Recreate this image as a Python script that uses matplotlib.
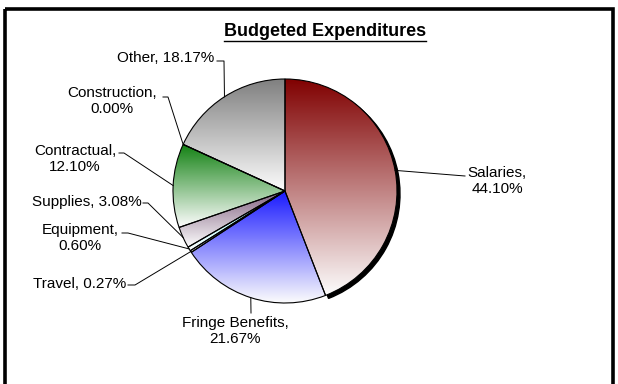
import numpy as np
import matplotlib
matplotlib.use('Agg')
import matplotlib.pyplot as plt
from matplotlib.patches import Wedge, Rectangle
from matplotlib.colors import to_rgb

categories = ['Salaries', 'Fringe Benefits', 'Travel', 'Equipment', 'Supplies',
              'Contractual', 'Construction', 'Other']
shares = [44.10, 21.67, 0.27, 0.60, 3.08, 12.10, 0.00, 18.17]
top_colors = ['#800000', '#1a1aff', '#206060', '#80ffff', '#806080',
              '#108010', '#c0c0c0', '#808080']

# label text, text centre, leader start (x, y in pixels, y downward)
label_text = ['Salaries,\n44.10%', 'Fringe Benefits,\n21.67%', 'Travel, 0.27%',
              'Equipment,\n0.60%', 'Supplies, 3.08%', 'Contractual,\n12.10%',
              'Construction,\n0.00%', 'Other, 18.17%']
label_pos = [(497, 181), (235, 331), (80, 284), (80, 238), (87, 202),
             (75, 159), (112, 101), (166, 58)]
leader_start = [[(465, 176)], [(251, 313)], [(128, 285), (135, 285)],
                [(122, 233), (128, 233)], [(143, 203), (148, 203)],
                [(119, 153), (124, 153)], [(163, 97), (168, 97)],
                [(217, 61), (224, 61)]]

W, H = 618, 384
cx, cy, r = 285, 191, 112

plt.rcParams['font.family'] = ['Liberation Sans', 'DejaVu Sans']

fig = plt.figure(figsize=(W / 100, H / 100), dpi=100)
ax = fig.add_axes([0, 0, 1, 1])

wedges, _ = ax.pie(shares, startangle=270, counterclock=True, center=(cx, cy),
                   radius=r, frame=True,
                   wedgeprops=dict(facecolor='none', edgecolor='black', linewidth=0.8))

# gradient fill: wedge colour at the top fading to white at the bottom
for w, col in zip(wedges, top_colors):
    w.set_zorder(2)
    ext = w.get_path().get_extents()
    if ext.height < 0.5 or ext.width < 0.5:
        continue
    c = np.array(to_rgb(col))
    t = np.linspace(0, 1, 256)[:, None]
    grad = (1 - t) * c + t * np.array([0.99, 0.99, 0.99])
    img = ax.imshow(grad[:, None, :], extent=(ext.x0, ext.x1, ext.y1, ext.y0),
                    aspect='auto', origin='upper', zorder=1, interpolation='bilinear')
    img.set_clip_path(w)

# drop shadow under the salaries slice
sal = wedges[0]
ax.add_patch(Wedge((cx + 3, cy + 3), r, sal.theta1, sal.theta2,
                   facecolor='black', edgecolor='black', zorder=0.5))

# leader lines and labels
for w, txt, pos, pts in zip(wedges, label_text, label_pos, leader_start):
    mid = np.deg2rad((w.theta1 + w.theta2) / 2)
    ex, ey = cx + r * np.cos(mid), cy + r * np.sin(mid)
    xs = [p[0] for p in pts] + [ex]
    ys = [p[1] for p in pts] + [ey]
    ax.plot(xs, ys, color='black', lw=0.7, zorder=3)
    ax.text(pos[0], pos[1], txt, ha='center', va='center', fontsize=11,
            linespacing=1.1, color='black', zorder=4)

ax.set_xlim(0, W)
ax.set_ylim(H, 0)
ax.set_axis_off()

title = ax.text(325, 31, 'Budgeted Expenditures', ha='center', va='center',
                fontsize=13, fontweight='bold')
fig.canvas.draw()
bb = title.get_window_extent().transformed(ax.transData.inverted())
ax.plot([bb.x0, bb.x1], [40.5, 40.5], color='black', lw=1.0)

ax.add_patch(Rectangle((5, 8.5), 607.5, 400, facecolor='none', edgecolor='black',
                       linewidth=2.6, clip_on=False, zorder=5))

fig.savefig('out.png', dpi=100, facecolor='white')
